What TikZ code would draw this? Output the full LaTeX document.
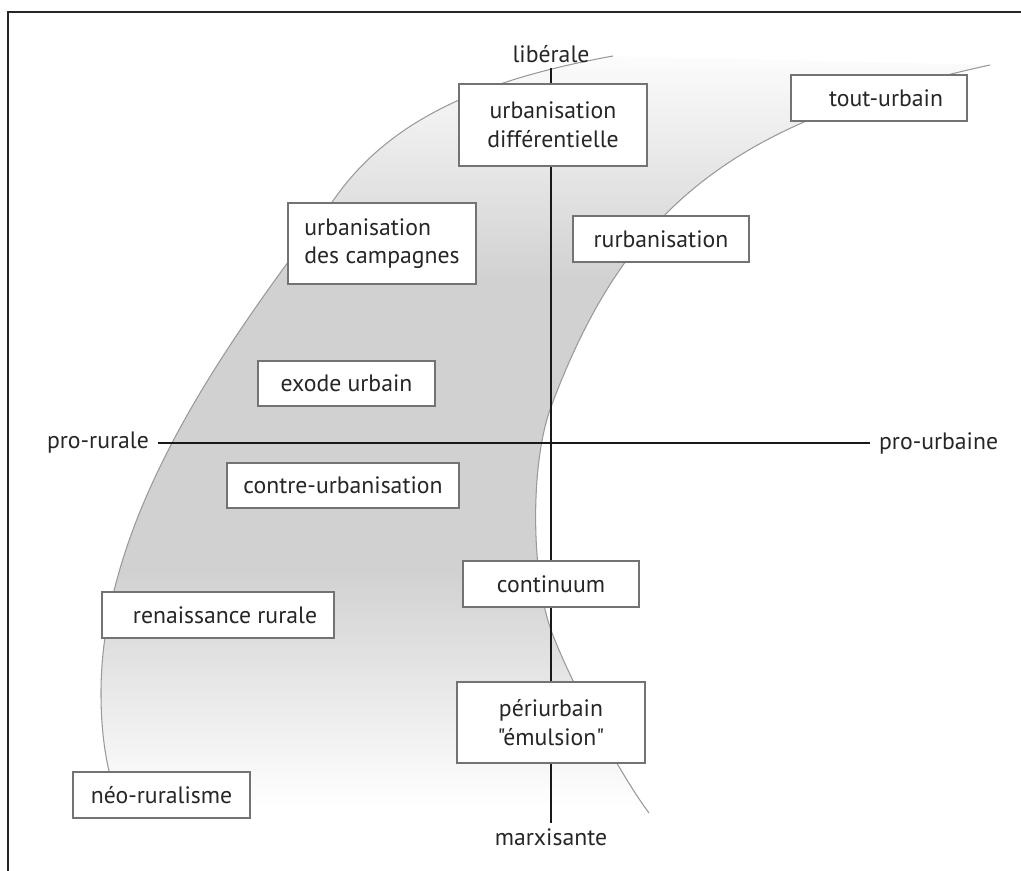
\documentclass[tikz,border=0pt]{standalone}
\usepackage{fontspec}
\setmainfont{PT Sans}
\newfontfamily\police{PT Sans}

\begin{document}
\begin{tikzpicture}[x=0.02cm, y=-0.02cm,
  cadre/.style={draw=black!55, line width=0.8pt, fill=white, text=black!85, inner sep=0pt,
    minimum height=0.92cm, align=center, font=\police\fontsize{13.5}{16.3}\selectfont},
  etiq/.style={text=black!85, inner xsep=5pt, inner ysep=2.5pt, font=\police\fontsize{13.5}{16.3}\selectfont},
  axe/.style={line width=1.1pt, black!90},
  bord/.style={black!40, line width=0.6pt}]
\useasboundingbox (0,0) rectangle (1021,871);
% cadre
\draw[line width=1.1pt, black!85] (1021,12) -- (8,12) -- (8,871);
% bande grise
\begin{scope}
\clip (613,56) .. controls (480,80) and (390,120) .. (335,198)
  .. controls (250,315) and (101,500) .. (101,693)
  .. controls (101,740) and (108,775) .. (118,800)
  -- (649,813) .. controls (619,773) and (568,677) .. (551,630)
  .. controls (531,574) and (530,463) .. (551,407)
  .. controls (628,200) and (740,120) .. (990,65) -- cycle;
\shade[top color=white, bottom color=black!18] (0,40) rectangle (1021,280);
\fill[black!18] (0,280) rectangle (1021,570);
\shade[top color=black!18, bottom color=white] (0,570) rectangle (1021,808);
\end{scope}
\draw[bord] (613,56) .. controls (480,80) and (390,120) .. (335,198)
  .. controls (250,315) and (101,500) .. (101,693)
  .. controls (101,740) and (108,775) .. (118,800);
\draw[bord] (990,65) .. controls (740,120) and (628,200) .. (551,407)
  .. controls (530,463) and (531,574) .. (551,630)
  .. controls (568,677) and (619,773) .. (649,813);
% axes
\node[etiq, anchor=base] (liberale) at (551,63) {libérale};
\node[etiq, anchor=base] (marxis) at (551,845) {marxisante};
\node[etiq, anchor=east] (prorur) at (158,443) {pro-rurale};
\node[etiq, anchor=west] (prourb) at (870,443) {pro-urbaine};
\draw[axe] (liberale) -- (marxis);
\draw[axe] (prorur) -- (prourb);
% positions
\node[cadre, minimum width=3.76cm, minimum height=1.64cm] (udiff) at (553,125) {urbanisation\\différentielle};
\node[cadre, minimum width=3.52cm] (touturb) at (879,98) {\hspace{8pt}tout-urbain};
\node[cadre, minimum width=3.76cm, minimum height=1.62cm, align=left] (campagnes) at (382,243.5) {urbanisation\\des campagnes};
\node[cadre, minimum width=3.52cm] (rurb) at (661,239) {rurbanisation};
\node[cadre, minimum width=3.54cm, minimum height=0.9cm] (exode) at (346.5,383.5) {exode urbain};
\node[cadre, minimum width=4.64cm, minimum height=0.9cm] (contre) at (343,485.5) {contre-urbanisation};
\node[cadre, minimum width=3.52cm] (continuum) at (551,584) {continuum};
\node[cadre, minimum width=4.64cm] (renais) at (218,615) {\hspace{8pt}renaissance rurale};
\node[cadre, minimum width=3.76cm, minimum height=1.62cm] (periurb) at (551,722.5) {périurbain\\"émulsion"};
\node[cadre, minimum width=3.54cm] (neorur) at (161.5,795) {néo-ruralisme};
\end{tikzpicture}
\end{document}
